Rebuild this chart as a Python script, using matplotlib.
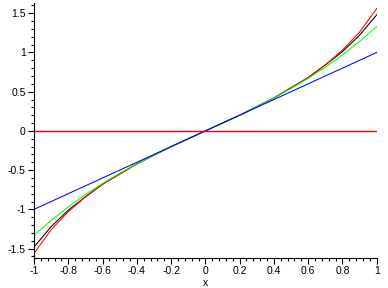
import numpy as np
import matplotlib
matplotlib.use("Agg")
import matplotlib.pyplot as plt
from matplotlib.ticker import MultipleLocator, FuncFormatter

# values, x from -1 to 1 in steps of 0.1
xs = [-1.0, -0.9, -0.8, -0.7, -0.6, -0.5, -0.4, -0.3, -0.2, -0.1, 0.0,
      0.1, 0.2, 0.3, 0.4, 0.5, 0.6, 0.7, 0.8, 0.9, 1.0]
red_curve = [-1.56, -1.26, -1.03, -0.84, -0.68, -0.55, -0.42, -0.31, -0.20, -0.10, 0.0,
             0.10, 0.20, 0.31, 0.42, 0.55, 0.68, 0.84, 1.03, 1.26, 1.56]
black_curve = [-1.48, -1.22, -1.01, -0.84, -0.68, -0.55, -0.42, -0.31, -0.20, -0.10, 0.0,
               0.10, 0.20, 0.31, 0.42, 0.55, 0.68, 0.84, 1.01, 1.22, 1.48]
green_curve = [-1.33, -1.14, -0.97, -0.81, -0.67, -0.54, -0.42, -0.31, -0.20, -0.10, 0.0,
               0.10, 0.20, 0.31, 0.42, 0.54, 0.67, 0.81, 0.97, 1.14, 1.33]
blue_curve = [-1.0, -0.9, -0.8, -0.7, -0.6, -0.5, -0.4, -0.3, -0.2, -0.1, 0.0,
              0.1, 0.2, 0.3, 0.4, 0.5, 0.6, 0.7, 0.8, 0.9, 1.0]
zero_line = [0.0] * len(xs)

plt.rcParams['font.family'] = ['Liberation Sans', 'DejaVu Sans']

fig = plt.figure(figsize=(3.88, 2.88), dpi=100)
ax = fig.add_axes([0.0876, 0.104, 0.971 - 0.0876, 0.9896 - 0.104])

lw = 0.75
ax.plot(xs, black_curve, color='black', lw=lw)
ax.plot(xs, red_curve, color='#ff0000', lw=lw)
ax.plot(xs, green_curve, color='#00ff00', lw=lw)
ax.plot(xs, blue_curve, color='#0000ff', lw=lw)
# horizontal red line at zero
ax.plot(xs, zero_line, color='#ff0000', lw=1.0, snap=True, zorder=3)

ax.set_xlim(-1, 1)
ax.set_ylim(-1.62, 1.63)

for s in ['top', 'right']:
    ax.spines[s].set_visible(False)
for s in ['left', 'bottom']:
    ax.spines[s].set_linewidth(0.8)

ax.xaxis.set_major_locator(MultipleLocator(0.2))
ax.xaxis.set_minor_locator(MultipleLocator(0.04))
ax.yaxis.set_major_locator(MultipleLocator(0.5))
ax.yaxis.set_minor_locator(MultipleLocator(0.1))


def fmt(v, pos):
    if abs(v) < 1e-9:
        return '0'
    return ('%.1f' % v).rstrip('0').rstrip('.')


ax.xaxis.set_major_formatter(FuncFormatter(fmt))
ax.yaxis.set_major_formatter(FuncFormatter(fmt))
ax.tick_params(which='major', length=4, width=0.8, labelsize=7.5, pad=2)
ax.tick_params(which='minor', length=2, width=0.8)

ax.set_xlabel('x', fontsize=7.5, labelpad=1)

fig.savefig('out.png', dpi=100)
